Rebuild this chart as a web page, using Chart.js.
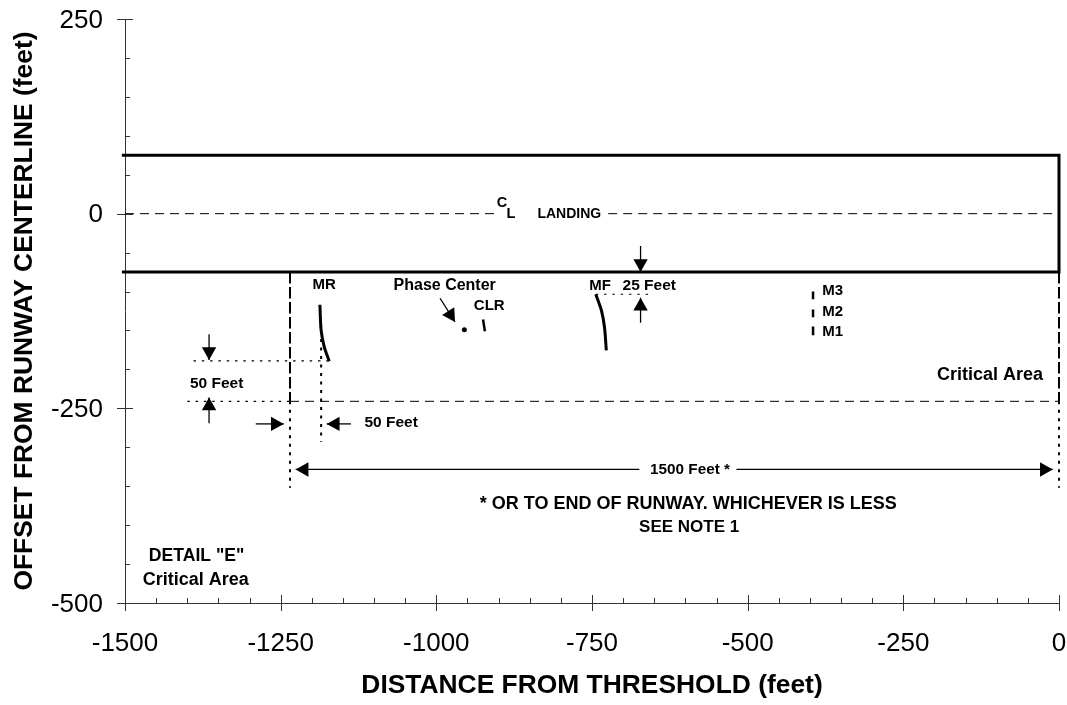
<!DOCTYPE html>
<html>
<head>
<meta charset="utf-8">
<style>
  body { margin: 0; background: #fff; }
  canvas { display: block; }
</style>
<script src="https://cdn.jsdelivr.net/npm/chart.js@4/dist/chart.umd.min.js"></script>
</head>
<body>
<canvas id="detailChart" width="1067" height="705"></canvas>
<script>
// axis ticks
var xMajorTicks = [-1500, -1250, -1000, -750, -500, -250, 0];
var yMajorTicks = [-500, -250, 0, 250];

// runway outline (open on the axis side) and centerline, in feet
var runwayX = [-1505, 0, 0, -1505];
var runwayY = [75, 75, -75, -75];
var centerLeftX = [-1500, -904];
var centerRightX = [-724, 0];
var centerY = [0, 0];

// critical area boundary
var areaLeftDashX = [-1235, -1235];
var areaLeftDashY = [-75, -241];
var areaLeftDotY = [-241, -352];
var areaRightDashX = [0, 0];
var areaRightDashY = [-75, -241];
var areaRightDotY = [-241, -352];
var areaBottomX = [-1235, 0];
var areaBottomY = [-241, -241];

// dimension lines
var dim50TopX = [-1390, -1172];
var dim50TopY = [-189, -189];
var dim50BottomX = [-1400, -1235];
var dim50BottomY = [-241, -241];
var dim50SideX = [-1185, -1185];
var dim50SideY = [-150, -293];
var dim25X = [-744, -657];
var dim25Y = [-103.5, -103.5];

// antennas
var mrX = [-1187, -1185, -1180, -1172];
var mrY = [-117, -150, -171, -189.5];
var mfX = [-744, -735, -730, -727];
var mfY = [-103.5, -124, -145.5, -175.5];
var clrX = [-925, -922];
var clrY = [-136, -151];
var m3X = [-395, -395];
var m3Y = [-100, -110];
var m2X = [-395, -395];
var m2Y = [-123, -133];
var m1X = [-395, -395];
var m1Y = [-145, -156];
var phaseCenterX = [-955];
var phaseCenterY = [-149];

// arrows, tail to tip, in feet
var arrowTailX = [-1365, -1365, -1290, -1137, -994, -672, -672, -674, -518];
var arrowTailY = [-155, -269, -270, -270, -108.6, -41.5, -140, -328.5, -328.5];
var arrowTipX = [-1365, -1365, -1245, -1176, -970, -672, -672, -1226, -10];
var arrowTipY = [-188, -236, -270, -270, -139, -75, -108, -328.5, -328.5];

var labels = [
  { text: 'MR', x: -1180, y: -90.6, size: 15 },
  { text: 'Phase Center', x: -986.6, y: -90.6, size: 16 },
  { text: 'CLR', x: -915, y: -117.6, size: 15 },
  { text: 'MF', x: -737, y: -91, size: 15 },
  { text: '25 Feet', x: -658, y: -91, size: 15.5 },
  { text: 'M3', x: -363.5, y: -98.3, size: 15 },
  { text: 'M2', x: -363.5, y: -125.3, size: 15 },
  { text: 'M1', x: -363.5, y: -151, size: 15 },
  { text: 'C', x: -894.5, y: 14.8, size: 14.5 },
  { text: 'L', x: -880, y: 0.3, size: 14.5 },
  { text: 'LANDING', x: -786.5, y: 0.3, size: 14 },
  { text: '50 Feet', x: -1352.8, y: -216.6, size: 15.5 },
  { text: '50 Feet', x: -1072.5, y: -266.7, size: 15.5 },
  { text: 'Critical Area', x: -110.8, y: -206.3, size: 18 },
  { text: '1500 Feet *', x: -592.6, y: -327, size: 15.3 },
  { text: '* OR TO END OF RUNWAY. WHICHEVER IS LESS', x: -595.3, y: -371.7, size: 18 },
  { text: 'SEE NOTE 1', x: -594, y: -401.7, size: 17 },
  { text: 'DETAIL "E"', x: -1385, y: -439, size: 17.6 },
  { text: 'Critical Area', x: -1386.4, y: -469.8, size: 18 }
];

function toPoints(xs, ys) {
  return xs.map(function (x, i) { return { x: x, y: ys[i] }; });
}

function lineSet(xs, ys, width, dash, tension) {
  return {
    data: toPoints(xs, ys),
    showLine: true,
    borderColor: '#000',
    borderWidth: width,
    borderDash: dash || [],
    tension: tension || 0,
    pointRadius: 0,
    clip: false
  };
}

var HEAD = 8; // size of the arrow heads

var datasets = [
  lineSet(runwayX, runwayY, 3),
  lineSet(centerLeftX, centerY, 1, [9, 6]),
  lineSet(centerRightX, centerY, 1, [9, 6]),
  lineSet(areaLeftDashX, areaLeftDashY, 2, [11.5, 3.5]),
  lineSet(areaLeftDashX, areaLeftDotY, 2, [3, 5.5]),
  lineSet(areaRightDashX, areaRightDashY, 2, [11.5, 3.5]),
  lineSet(areaRightDashX, areaRightDotY, 2, [3, 5.5]),
  lineSet(areaBottomX, areaBottomY, 1, [9, 6]),
  lineSet(dim50TopX, dim50TopY, 1.2, [2.5, 5.8]),
  lineSet(dim50BottomX, dim50BottomY, 1.2, [2.5, 5.8]),
  lineSet(dim50SideX, dim50SideY, 2, [3, 5.5]),
  lineSet(dim25X, dim25Y, 1.2, [2.5, 5.8]),
  lineSet(mrX, mrY, 3, null, 0.3),
  lineSet(mfX, mfY, 3, null, 0.3),
  lineSet(clrX, clrY, 2.5),
  lineSet(m3X, m3Y, 2.5),
  lineSet(m2X, m2Y, 2.5),
  lineSet(m1X, m1Y, 2.5),
  {
    data: toPoints(phaseCenterX, phaseCenterY),
    pointStyle: 'circle',
    pointRadius: 2.5,
    pointBackgroundColor: '#000',
    pointBorderWidth: 0
  }
];

// shafts first, the heads are drawn on the tips by the arrowHeads plugin
arrowTailX.forEach(function (tx, i) {
  datasets.push(lineSet([tx, arrowTipX[i]], [arrowTailY[i], arrowTipY[i]], 1.3));
});

var arrowHeads = {
  id: 'arrowHeads',
  afterDatasetsDraw: function (chart) {
    var xs = chart.scales.x, ys = chart.scales.y, ctx = chart.ctx;
    arrowTipX.forEach(function (tipX, i) {
      var px = xs.getPixelForValue(tipX), py = ys.getPixelForValue(arrowTipY[i]);
      var dx = px - xs.getPixelForValue(arrowTailX[i]);
      var dy = py - ys.getPixelForValue(arrowTailY[i]);
      var rot = Math.atan2(dy, dx);
      ctx.save();
      ctx.translate(px, py);
      ctx.rotate(rot);
      ctx.beginPath();
      ctx.moveTo(0, 0);
      ctx.lineTo(-HEAD * 1.6, -HEAD * 0.9);
      ctx.lineTo(-HEAD * 1.6, HEAD * 0.9);
      ctx.closePath();
      ctx.fillStyle = '#000';
      ctx.fill();
      ctx.restore();
    });
  }
};

var textLabels = {
  id: 'textLabels',
  afterDatasetsDraw: function (chart) {
    var xs = chart.scales.x, ys = chart.scales.y, ctx = chart.ctx;
    ctx.save();
    ctx.fillStyle = '#000';
    ctx.textAlign = 'center';
    ctx.textBaseline = 'middle';
    labels.forEach(function (l) {
      ctx.font = 'bold ' + l.size + 'px "Liberation Sans"';
      // +1: middle baseline sits a bit high for capitals
      ctx.fillText(l.text, xs.getPixelForValue(l.x), ys.getPixelForValue(l.y) + 1);
    });
    ctx.restore();
  }
};

// major ticks cross the axis, minor ones stay on the inside
var tickMarks = {
  id: 'tickMarks',
  afterDatasetsDraw: function (chart) {
    var ctx = chart.ctx, area = chart.chartArea;
    ctx.save();
    ctx.strokeStyle = '#333';
    ctx.lineWidth = 1;
    ctx.beginPath();
    chart.scales.x.ticks.forEach(function (t) {
      var px = Math.round(chart.scales.x.getPixelForValue(t.value)) + 0.5;
      var major = xMajorTicks.indexOf(t.value) >= 0;
      ctx.moveTo(px, area.bottom + (major ? 8 : 0));
      ctx.lineTo(px, area.bottom - (major ? 8 : 5));
    });
    chart.scales.y.ticks.forEach(function (t) {
      var py = Math.round(chart.scales.y.getPixelForValue(t.value)) + 0.5;
      var major = yMajorTicks.indexOf(t.value) >= 0;
      ctx.moveTo(area.left - (major ? 8 : 0), py);
      ctx.lineTo(area.left + (major ? 8 : 5), py);
    });
    ctx.stroke();
    ctx.restore();
  }
};

function tickLabel(majors) {
  return function (value) {
    return majors.indexOf(value) >= 0 ? String(value) : '';
  };
}

var ctx = document.getElementById('detailChart').getContext('2d');
var detailChart = new Chart(ctx, {
  type: 'scatter',
  data: { datasets: datasets },
  plugins: [arrowHeads, textLabels, tickMarks],
  options: {
    responsive: false,
    animation: false,
    layout: { padding: { top: 19, right: 8, bottom: 0, left: 0 } },
    plugins: { legend: { display: false }, tooltip: { enabled: false } },
    scales: {
      x: {
        min: -1500,
        max: 0,
        afterFit: function (s) {
          s.height = 102;
          s.paddingLeft = 0;
          s.paddingRight = 0;
        },
        afterBuildTicks: function (s) {
          s.ticks = [];
          for (var v = -1500; v <= 0; v += 50) s.ticks.push({ value: v });
        },
        grid: { drawOnChartArea: false, drawTicks: false },
        border: { color: '#333', width: 1 },
        ticks: {
          autoSkip: false,
          maxRotation: 0,
          padding: 25,
          color: '#000',
          font: { family: '"Liberation Sans"', size: 26 },
          callback: tickLabel(xMajorTicks)
        },
        title: {
          display: true,
          text: 'DISTANCE FROM THRESHOLD (feet)',
          color: '#000',
          padding: { top: 6, bottom: 3 },
          font: { family: '"Liberation Sans"', size: 26.4, weight: 'bold' }
        }
      },
      y: {
        min: -500,
        max: 250,
        afterFit: function (s) {
          s.width = 125;
          s.paddingTop = 0;
          s.paddingBottom = 0;
        },
        afterBuildTicks: function (s) {
          s.ticks = [];
          for (var v = -500; v <= 250; v += 50) s.ticks.push({ value: v });
        },
        grid: { drawOnChartArea: false, drawTicks: false },
        border: { color: '#333', width: 1 },
        ticks: {
          autoSkip: false,
          padding: 22,
          labelOffset: 1.5,
          color: '#000',
          font: { family: '"Liberation Sans"', size: 26 },
          callback: tickLabel(yMajorTicks)
        },
        title: {
          display: true,
          text: 'OFFSET FROM RUNWAY CENTERLINE (feet)',
          color: '#000',
          padding: { top: 9, bottom: 4 },
          font: { family: '"Liberation Sans"', size: 26.4, weight: 'bold' }
        }
      }
    }
  }
});
</script>
</body>
</html>
